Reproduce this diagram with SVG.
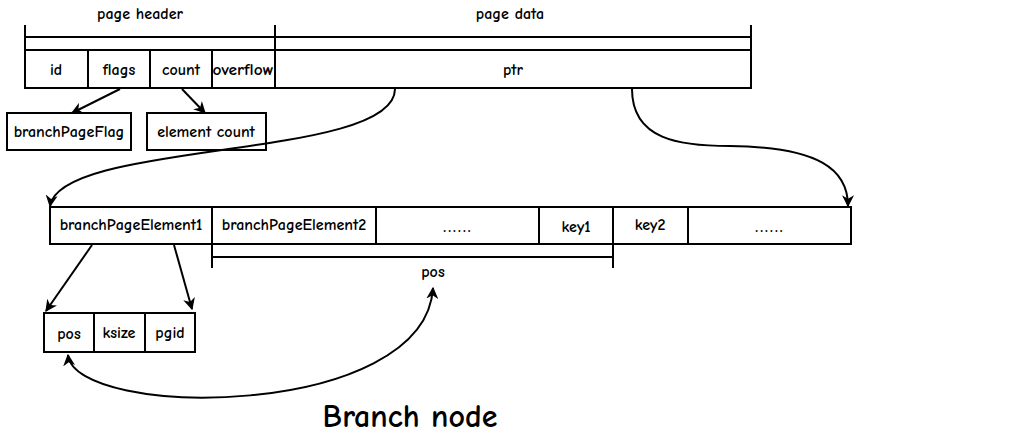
<svg xmlns="http://www.w3.org/2000/svg" width="1016" height="443" viewBox="0 0 1016 443">
<style>
.b{fill:#fff;stroke:#000;stroke-width:2}
.l{fill:none;stroke:#000;stroke-width:2}
.t{font-family:"Comic Neue","Liberation Sans",sans-serif;font-size:16px;font-weight:bold;fill:#000;text-anchor:middle;dominant-baseline:central}
.d{letter-spacing:2px}
.c{fill:none;stroke:#000;stroke-width:2;marker-end:url(#ah)}
</style>
<defs>
<marker id="ah" viewBox="0 0 10 10" refX="9" refY="5" markerWidth="12" markerHeight="12" markerUnits="userSpaceOnUse" orient="auto-start-reverse">
<path d="M0,0 L10,5 L0,10 L3,5 Z" fill="#000"/>
</marker>
</defs>
<rect width="1016" height="443" fill="#fff"/>
<g id="header-bracket">
<path class="l" d="M25 25 V88 M25 37 H751 M275 25 V88 M751 25 V88"/>
<text class="t" x="140" y="14">page header</text>
<text class="t" x="510" y="14">page data</text>
</g>
<g id="page-row">
<rect class="b" x="25" y="50" width="63" height="38"/><text class="t" x="56" y="70">id</text>
<rect class="b" x="88" y="50" width="62" height="38"/><text class="t" x="119" y="70">flags</text>
<rect class="b" x="150" y="50" width="62" height="38"/><text class="t" x="181" y="70">count</text>
<rect class="b" x="212" y="50" width="63" height="38"/><text class="t" x="243" y="70" textLength="61" lengthAdjust="spacingAndGlyphs">overflow</text>
<rect class="b" x="275" y="50" width="476" height="38"/><text class="t" x="513" y="70">ptr</text>
</g>
<g id="branchPageFlag"><rect class="b" x="7" y="113" width="124" height="37"/><text class="t" x="69" y="132">branchPageFlag</text></g>
<g id="elementCount"><rect class="b" x="147" y="113" width="119" height="37"/><text class="t" x="206" y="132">element count</text></g>
<g id="elements-row">
<rect class="b" x="50" y="207" width="162" height="37"/><text class="t" x="131" y="225">branchPageElement1</text>
<rect class="b" x="212" y="207" width="164" height="37"/><text class="t" x="294" y="225">branchPageElement2</text>
<rect class="b" x="376" y="207" width="163" height="37"/><text class="t d" x="458" y="227">......</text>
<rect class="b" x="539" y="207" width="74" height="37"/><text class="t" x="576" y="227">key1</text>
<rect class="b" x="613" y="207" width="75" height="37"/><text class="t" x="650" y="225">key2</text>
<rect class="b" x="688" y="207" width="163" height="37"/><text class="t d" x="770" y="227">......</text>
</g>
<g id="pos-bracket">
<path class="l" d="M212 244 V268 M212 257 H613 M613 244 V268"/>
<text class="t" x="433" y="272">pos</text>
</g>
<g id="element-fields">
<rect class="b" x="44" y="313" width="50" height="39"/><text class="t" x="69" y="334">pos</text>
<rect class="b" x="94" y="313" width="51" height="39"/><text class="t" x="119" y="333">ksize</text>
<rect class="b" x="145" y="313" width="50" height="39"/><text class="t" x="170" y="333">pgid</text>
</g>
<g id="connectors">
<path class="c" d="M120 89 L72 113"/>
<path class="c" d="M182 89 L205 113"/>
<path class="c" d="M395 89 C395 160 60 140 50 206"/>
<path class="c" d="M632 89 C632 140 680 146 730 146 C820 147 848 170 848 206"/>
<path class="c" d="M92 245 L46 311"/>
<path class="c" d="M174 245 L192 309"/>
<path class="c" style="marker-start:url(#ah)" d="M68 355 C75 420 425 420 433 288"/>
</g>
<text x="410" y="427" style="font-family:'Comic Neue','Liberation Sans',sans-serif;font-size:32px;font-weight:bold;text-anchor:middle">Branch node</text>
</svg>
